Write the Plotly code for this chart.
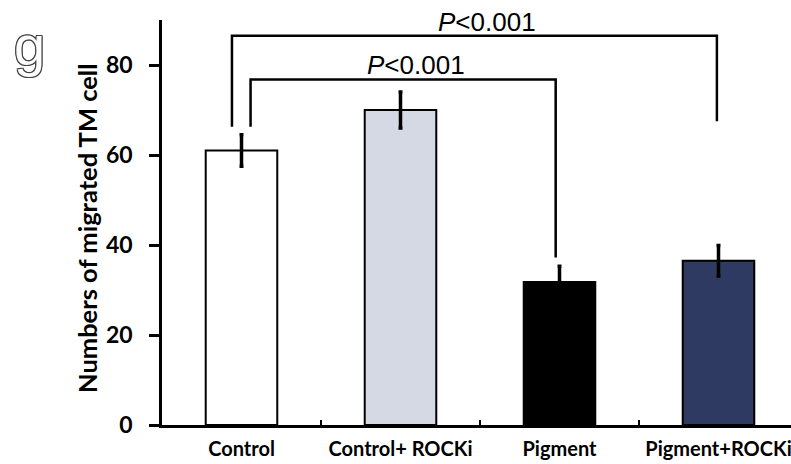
import plotly.graph_objects as go

categories = ["Control", "Control+ ROCKi", "Pigment", "Pigment+ROCKi"]
means = [61.0, 70.0, 31.8, 36.5]
errors = [3.5, 4.0, 3.5, 3.4]
bar_colors = ["#ffffff", "#d5d9e4", "#000000", "#2e3a62"]
y_ticks = [0, 20, 40, 60, 80]

# significance comparisons: (left index, right index, height, left foot, right foot, label)
comparisons = [
    (0, 2, 76.8, 66.3, 37.2, "<i>P</i><0.001"),
    (0, 3, 86.5, 66.3, 67.5, "<i>P</i><0.001"),
]
left_offsets = [0.057, -0.06]
right_offsets = [-0.024, -0.01]

fig = go.Figure()
fig.add_trace(go.Bar(
    x=categories, y=means,
    width=0.45,
    marker=dict(color=bar_colors, line=dict(color="#000000", width=2)),
    error_y=dict(type="data", array=errors, visible=True, color="#000000",
                 thickness=3.5, width=2),
    showlegend=False,
))

for (i, j, h, fl, fr, lab), lo, ro in zip(comparisons, left_offsets, right_offsets):
    xl = i + lo
    xr = j + ro
    fig.add_shape(type="path",
                  path=f"M {xl} {fl} L {xl} {h} L {xr} {h} L {xr} {fr}",
                  xref="x", yref="y", line=dict(color="#000000", width=2.5))
    fig.add_annotation(x=(xl + xr) / 2, y=h, text=lab, showarrow=False,
                       xref="x", yref="y", yanchor="bottom", xshift=13, yshift=-3,
                       font=dict(family="Liberation Sans, Arial", size=26, color="#000000"))

fig.add_annotation(text="Numbers of migrated TM cell", textangle=-90,
                   xref="paper", yref="paper", x=(87 - 162) / 629, y=(425 - 228) / 405,
                   xanchor="center", yanchor="middle", showarrow=False,
                   font=dict(family="Lato", size=25.5, color="#000000", weight="bold"))

fig.add_annotation(text="g", xref="paper", yref="paper",
                   x=(29 - 162) / 629, y=(425 - 45) / 405,
                   xanchor="center", yanchor="middle", showarrow=False,
                   font=dict(family="Liberation Sans, Arial", size=56, color="#ffffff",
                             shadow="1px 0 0 #444, -1px 0 0 #444, 0 1px 0 #444, 0 -1px 0 #444, "
                                    "1px 1px 0 #444, -1px -1px 0 #444, 1px -1px 0 #444, -1px 1px 0 #444"))

fig.update_layout(
    width=791, height=464,
    margin=dict(l=162, r=0, t=20, b=39),
    paper_bgcolor="#ffffff", plot_bgcolor="#ffffff",
    bargap=0.55,
    xaxis=dict(type="category", range=[-0.5, 3.456], showgrid=False, automargin=False,
               showline=True, linecolor="#000000", linewidth=2.5, tickangle=0,
               ticks="inside", tickson="boundaries", ticklen=5, tickwidth=2, tickcolor="#000000",
               ticklabelstandoff=4,
               tickfont=dict(family="Lato", size=20, color="#000000", weight="bold")),
    yaxis=dict(range=[0, 90], tickvals=y_ticks, showgrid=False, zeroline=False, automargin=False,
               showline=True, linecolor="#000000", linewidth=2.5,
               ticks="outside", ticklen=10, tickwidth=2.5, tickcolor="#000000",
               ticklabelstandoff=12,
               tickfont=dict(family="Lato", size=23, color="#000000", weight="bold")),
)

fig.write_html("out.html", config={"displayModeBar": False},
               post_script="document.body.style.margin='0';document.body.style.overflow='hidden';")
